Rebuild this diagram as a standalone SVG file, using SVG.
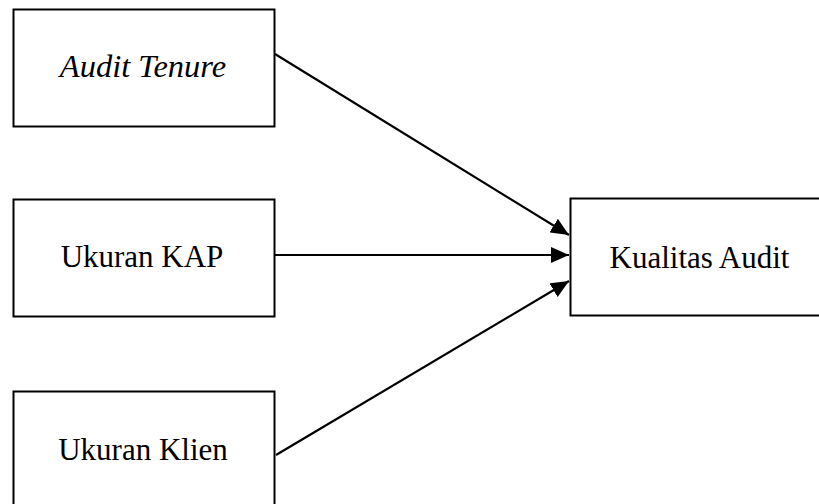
<svg xmlns="http://www.w3.org/2000/svg" width="819" height="504" viewBox="0 0 819 504">
<style>
.box{fill:#fff;stroke:#000;stroke-width:2}
.lbl{font-family:"Liberation Serif","Times New Roman",serif;font-size:31px;fill:#000;text-anchor:middle}
.it{font-style:italic;font-size:32.5px}
.edge{stroke:#000;stroke-width:2.2;fill:none}
</style>
<defs>
<marker id="ah" markerUnits="userSpaceOnUse" markerWidth="19" markerHeight="16" refX="18" refY="8" orient="auto">
<polygon points="0,0 18,8 0,16" fill="#000"/>
</marker>
</defs>
<rect width="819" height="504" fill="#fff"/>
<g id="node-audit-tenure">
<rect class="box" x="13.5" y="9.5" width="261" height="117"/>
<text class="lbl it" x="143" y="77">Audit Tenure</text>
</g>
<g id="node-ukuran-kap">
<rect class="box" x="13.5" y="199.5" width="261" height="117"/>
<text class="lbl" x="142" y="267">Ukuran KAP</text>
</g>
<g id="node-ukuran-klien">
<rect class="box" x="13.5" y="391.5" width="261" height="130"/>
<text class="lbl" x="143" y="460">Ukuran Klien</text>
</g>
<g id="node-kualitas-audit">
<rect class="box" x="570.5" y="198.5" width="270" height="117"/>
<text class="lbl" x="699.5" y="268">Kualitas Audit</text>
</g>
<g id="connectors">
<line class="edge" x1="275" y1="54" x2="569" y2="235" marker-end="url(#ah)"/>
<line class="edge" x1="275" y1="255" x2="569" y2="255" marker-end="url(#ah)"/>
<line class="edge" x1="276" y1="455" x2="569" y2="281" marker-end="url(#ah)"/>
</g>
</svg>
